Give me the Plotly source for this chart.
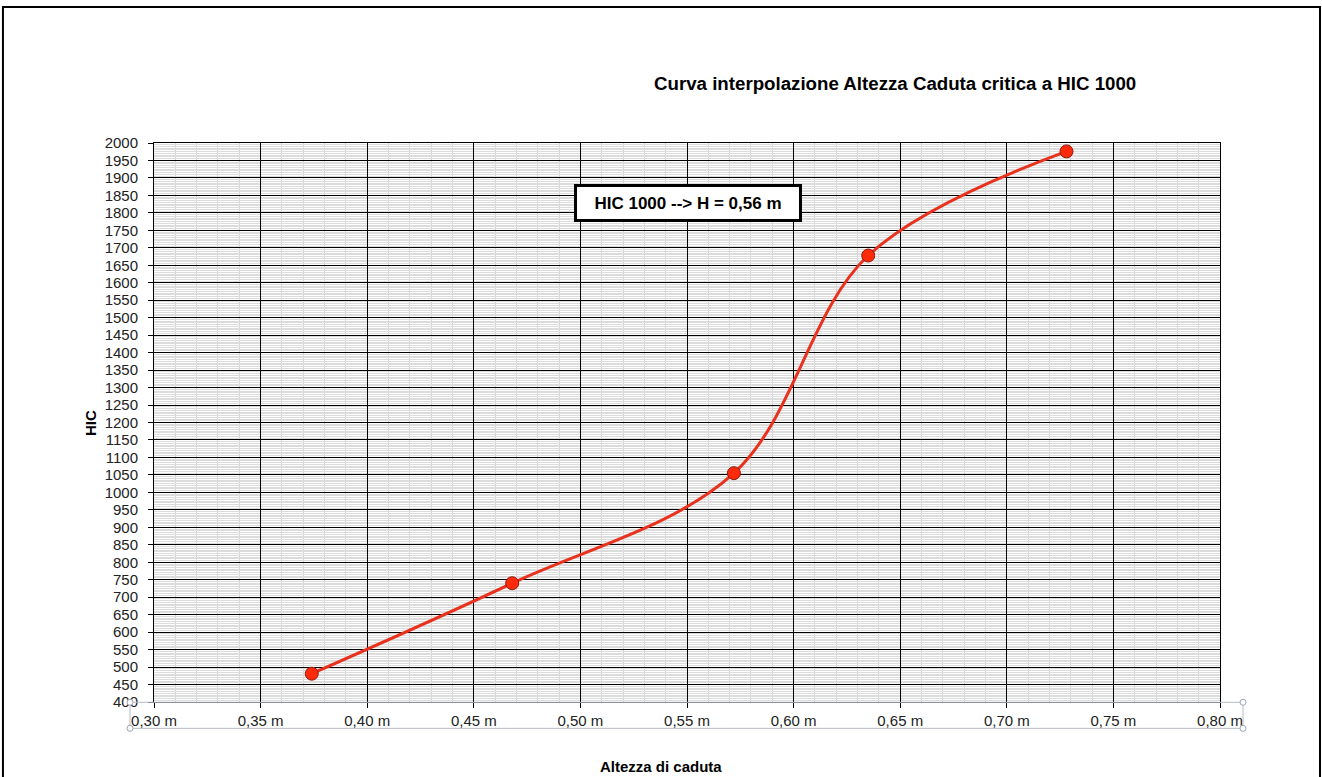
import plotly.graph_objects as go

# Data
altezza = [0.374, 0.468, 0.572, 0.635, 0.728]
hic = [481, 740, 1055, 1678, 1976]

x_tick_vals = [0.30, 0.35, 0.40, 0.45, 0.50, 0.55, 0.60, 0.65, 0.70, 0.75, 0.80]
x_tick_labels = ["0,30 m", "0,35 m", "0,40 m", "0,45 m", "0,50 m", "0,55 m",
                 "0,60 m", "0,65 m", "0,70 m", "0,75 m", "0,80 m"]

title_text = "Curva interpolazione Altezza Caduta critica a HIC 1000"
x_title = "Altezza di caduta"
y_title = "HIC"
box_text = "HIC 1000 --> H = 0,56 m"

FONT = "Liberation Sans, Arial, sans-serif"

fig = go.Figure()
fig.add_trace(go.Scatter(
    x=altezza, y=hic, mode="lines+markers",
    line=dict(color="#e8321e", width=3, shape="spline", smoothing=1.0),
    marker=dict(size=13, color="#ff2a0a", line=dict(color="#8a1a10", width=1)),
    showlegend=False, hoverinfo="x+y",
))

fig.update_layout(
    width=1322, height=777,
    margin=dict(l=154, r=102, t=143, b=75, autoexpand=False),
    paper_bgcolor="white", plot_bgcolor="white",
    font=dict(family=FONT, color="#222222", size=15),
    xaxis=dict(
        range=[0.30, 0.80], tickvals=x_tick_vals, ticktext=x_tick_labels,
        showgrid=True, gridcolor="#000000", gridwidth=1,
        minor=dict(dtick=0.01, showgrid=True, gridcolor="#d4d4d4", gridwidth=1),
        showline=True, linecolor="#000000", linewidth=1, mirror=True,
        ticks="outside", ticklen=5, tickcolor="#000000",
        tickfont=dict(size=15, family=FONT, color="#222222"),
        zeroline=False,
    ),
    yaxis=dict(
        range=[400, 2000], dtick=50, tick0=400,
        showgrid=True, gridcolor="#000000", gridwidth=1,
        minor=dict(dtick=5, showgrid=True, gridcolor="#dcdcdc", gridwidth=1),
        showline=True, linecolor="#000000", linewidth=1, mirror=True,
        ticks="outside", ticklen=5, tickcolor="#000000", ticklabelstandoff=7,
        tickfont=dict(size=15, family=FONT, color="#222222"),
        zeroline=False,
    ),
)

annotations = [
    dict(text="<b>" + title_text + "</b>", xref="paper", yref="paper",
         x=0.695, y=1.106, showarrow=False, font=dict(size=18.7, family=FONT, color="#000000"),
         xanchor="center", yanchor="middle"),
    dict(text="<b>" + x_title + "</b>", xref="paper", yref="paper",
         x=0.4755, y=-0.1145, showarrow=False, font=dict(size=15, family=FONT, color="#000000"),
         xanchor="center", yanchor="middle"),
    dict(text="<b>" + y_title + "</b>", xref="paper", yref="paper",
         x=-0.060, y=0.499, showarrow=False, textangle=-90,
         font=dict(size=15, family=FONT, color="#000000"),
         xanchor="center", yanchor="middle"),
    dict(text="<b>" + box_text + "</b>", xref="paper", yref="paper",
         x=0.5008, y=0.8921, showarrow=False, font=dict(size=17, family=FONT, color="#000000"),
         xanchor="center", yanchor="middle", bgcolor="white",
         bordercolor="#000000", borderwidth=3, borderpad=0, width=222, height=32),
]
fig.update_layout(annotations=annotations)

shapes = [
    # outer chart border
    dict(type="rect", xref="paper", yref="paper", x0=-0.1417, x1=1.0938, y0=-0.2,
         y1=1.2432, line=dict(color="#000000", width=2), fillcolor="rgba(0,0,0,0)", layer="above"),
    # selection frame around the x-axis labels
    dict(type="rect", xref="paper", yref="paper", x0=-0.0225, x1=1.0216, y0=-0.0471,
         y1=-0.0005, line=dict(color="#b8bcc6", width=1), fillcolor="rgba(0,0,0,0)", layer="above"),
]
for cx in (-0.0225, 1.0216):
    for cy in (-0.0005, -0.0471):
        shapes.append(dict(type="circle", xref="paper", yref="paper",
                           x0=cx - 0.0028, x1=cx + 0.0028, y0=cy - 0.0054, y1=cy + 0.0054,
                           line=dict(color="#9aa4b8", width=1), fillcolor="white", layer="above"))
fig.update_layout(shapes=shapes)

fig.write_html(
    "out.html",
    config={"displayModeBar": False},
    post_script="document.body.style.margin='0';document.body.style.overflow='hidden';",
)
